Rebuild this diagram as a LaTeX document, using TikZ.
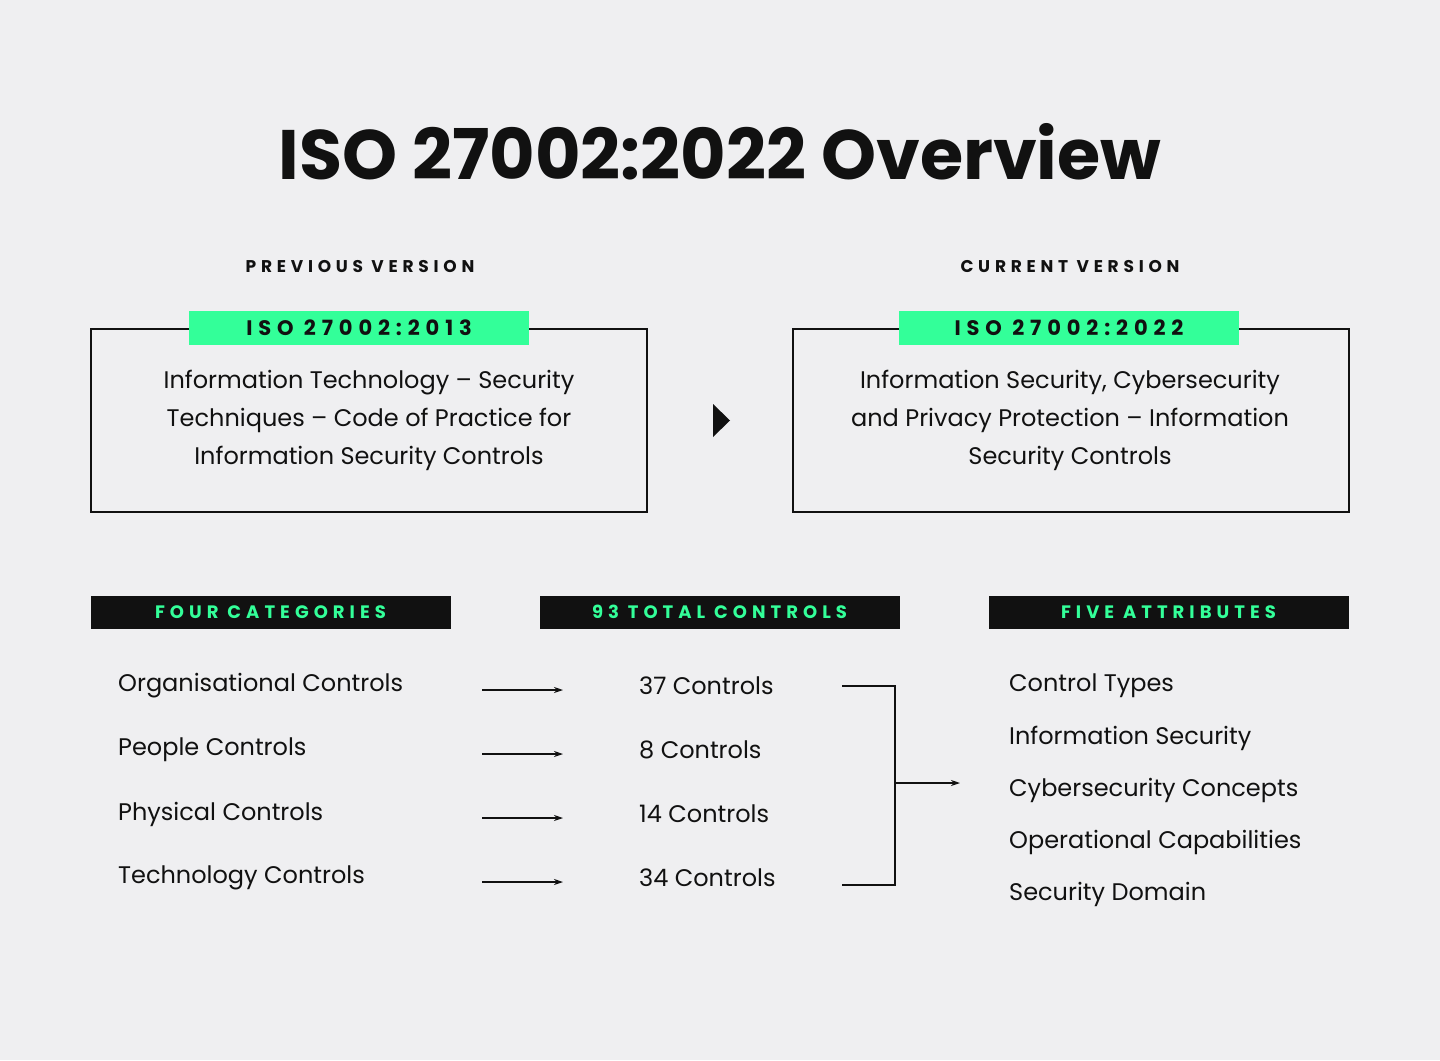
\documentclass[tikz,border=0pt]{standalone}
\usepackage{fontspec}
\setmainfont{Poppins}
\usetikzlibrary{positioning,calc,arrows.meta}
\definecolor{pagebg}{HTML}{EFEFF1}
\definecolor{mint}{HTML}{33FF99}
\definecolor{ink}{HTML}{111111}
\newcommand{\spaced}[1]{{\addfontfeatures{LetterSpace=28}#1}}
\tikzset{
  bodytext/.style={text=ink,font=\fontsize{24}{38}\selectfont,inner sep=0pt},
  listitem/.style={bodytext,anchor=west},
  headtext/.style={text=ink,font=\fontsize{17}{20}\selectfont\bfseries,inner sep=0pt},
  versionbox/.style={draw=ink,line width=1.6pt},
  taglabel/.style={fill=mint,text=ink,font=\fontsize{21}{24}\selectfont\bfseries,minimum width=340pt,minimum height=34pt,inner sep=0pt},
  catbar/.style={fill=ink,text=mint,font=\fontsize{18}{20}\selectfont\bfseries,minimum width=360pt,minimum height=33pt,inner sep=0pt},
  arr/.style={-{Stealth[length=9pt,width=6pt]},line width=1.1pt,ink}
}
\begin{document}
\begin{tikzpicture}[x=1pt,y=-1pt]
  \fill[pagebg] (0,0) rectangle (1440,1060);
  % Title
  \node[text=ink,font=\fontsize{70}{80}\selectfont\bfseries,inner sep=0pt] (title) at (720,152) {ISO 27002:2022 Overview};
  % Versions
  \node[headtext] (prevhead) at (360,267) {\spaced{PREVIOUS VERSION}};
  \node[headtext] (currhead) at (1070,267) {\spaced{CURRENT VERSION}};
  \draw[versionbox] (91,329) rectangle (647,512);
  \draw[versionbox] (793,329) rectangle (1349,512);
  \node[taglabel] (prevtag) at (359,328) {\spaced{ISO 27002:2013}};
  \node[taglabel] (currtag) at (1069,328) {\spaced{ISO 27002:2022}};
  \node[bodytext,align=center] (prevtext) at (369,420) {Information Technology – Security\\Techniques – Code of Practice for\\Information Security Controls};
  \node[bodytext,align=center] (currtext) at (1070,420) {Information Security, Cybersecurity\\and Privacy Protection – Information\\Security Controls};
  \fill[ink] (713,404) -- (730,420.5) -- (713,437) -- cycle;
  % Category bars
  \node[catbar] (cats) at (270.5,612) {\spaced{FOUR CATEGORIES}};
  \node[catbar] (total) at (719.5,612) {\spaced{93 TOTAL CONTROLS}};
  \node[catbar] (attrs) at (1168.5,612) {\spaced{FIVE ATTRIBUTES}};
  % Categories and counts
  \node[listitem] (l1) at (118,686) {Organisational Controls};
  \node[listitem] (l2) at (118,750) {People Controls};
  \node[listitem] (l3) at (118,814) {Physical Controls};
  \node[listitem] (l4) at (118,878) {Technology Controls};
  \node[listitem] (m1) at (639,686) {37 Controls};
  \node[listitem] (m2) at (639,750) {8 Controls};
  \node[listitem] (m3) at (639,814) {14 Controls};
  \node[listitem] (m4) at (639,878) {34 Controls};
  \foreach \i in {1,...,4}
    \draw[arr] ($(l\i.west)+(364,4)$) -- ($(m\i.west)+(-76,4)$);
  % Bracket
  \coordinate (brtop) at (842,686);
  \coordinate (brbot) at (842,885);
  \coordinate (brmid) at (895,783);
  \draw[line width=1.1pt,ink] (brtop) -- (895,686) -- (895,885) -- (brbot);
  % Attributes
  \node[listitem] (a1) at (1009,686) {Control Types};
  \node[listitem] (a2) at (1009,738) {Information Security};
  \node[listitem] (a3) at (1009,790) {Cybersecurity Concepts};
  \node[listitem] (a4) at (1009,842) {Operational Capabilities};
  \node[listitem] (a5) at (1009,894) {Security Domain};
  \draw[arr] (brmid) -- ($(a3.west)+(-49,-7)$);
\end{tikzpicture}
\end{document}
